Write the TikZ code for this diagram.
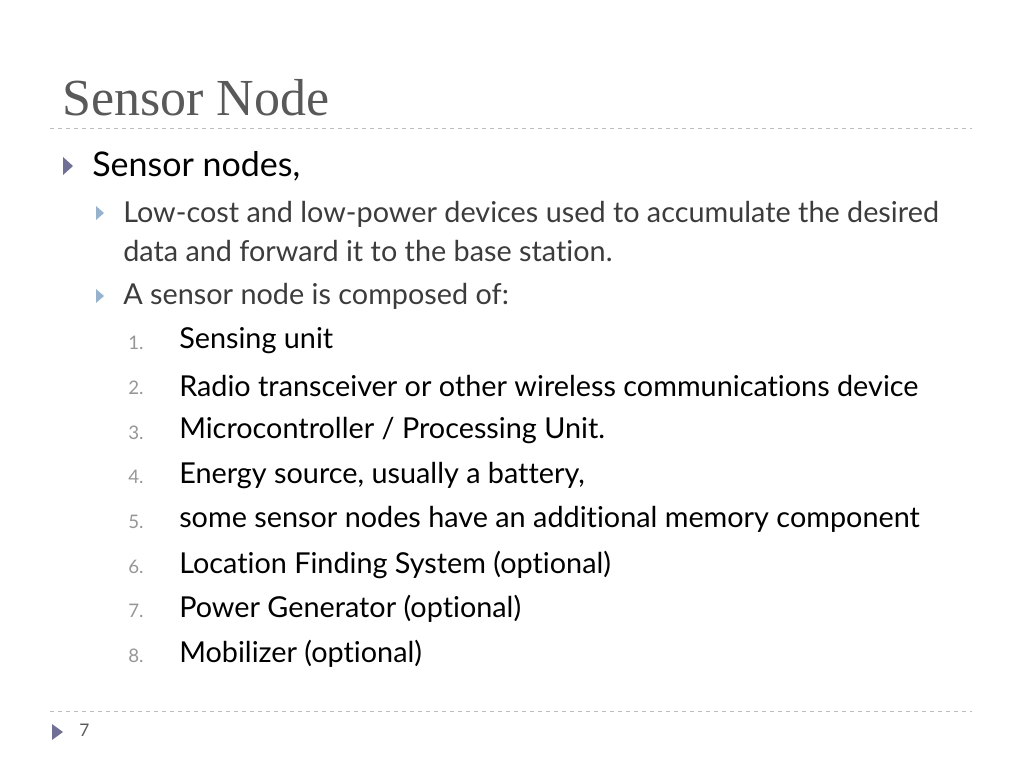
\documentclass[tikz,border=0pt]{standalone}
\usepackage{fontspec}
\setmainfont{Liberation Serif}
\newfontfamily\bodyfont[Ligatures={NoCommon}]{Lato}
\usetikzlibrary{positioning}
\definecolor{titlegray}{RGB}{89,89,89}
\definecolor{bulletblue}{RGB}{112,112,150}
\definecolor{subblue}{RGB}{150,178,204}
\definecolor{subgray}{RGB}{60,60,60}
\definecolor{numgray}{RGB}{150,150,150}
\definecolor{rulegray}{RGB}{190,190,190}
\tikzset{
  bodytext/.style={anchor=west,inner sep=0pt,font=\bodyfont\fontsize{25.5pt}{30pt}\selectfont},
  subtext/.style={anchor=west,inner sep=0pt,text=subgray,font=\bodyfont\fontsize{21.6pt}{25pt}\selectfont},
  itemtext/.style={anchor=west,inner sep=0pt,font=\bodyfont\fontsize{21.6pt}{25pt}\selectfont},
  numtext/.style={anchor=west,inner sep=0pt,text=numgray,font=\bodyfont\fontsize{14pt}{16pt}\selectfont},
  tribullet/.style={fill=bulletblue,draw=none},
  subbullet/.style={fill=subblue,draw=none},
  rulestyle/.style={draw=rulegray,dashed,line width=0.6pt}
}
\begin{document}
\begin{tikzpicture}[x=0.75pt,y=0.75pt,yscale=-1,xscale=1]
\useasboundingbox (0,0) rectangle (1024,768);

% title
\node[anchor=west,inner sep=0pt,text=titlegray,font=\fontsize{39pt}{44pt}\selectfont] (title) at (62,98) {Sensor Node};
\draw[rulestyle] (50,128) -- (972,128);

% bullets
\fill[tribullet] (63,157) -- (73,166) -- (63,175) -- cycle;
\node[bodytext] (lvlone) at (92,166) {Sensor nodes,};
\fill[subbullet] (96,206) -- (104,213) -- (96,220) -- cycle;
\node[subtext] (lowcost) at (123,214) {Low-cost and low-power devices used to accumulate the desired};
\node[subtext] (lowcostb) at (123,251) {data and forward it to the base station.};
\fill[subbullet] (96,289) -- (104,296) -- (96,303) -- cycle;
\node[subtext] (composed) at (123,296) {A sensor node is composed of:};

% numbered list
\foreach \n/\txt [count=\i from 0] in {1/Sensing unit,
  2/Radio transceiver or other wireless communications device,
  3/{Microcontroller / Processing Unit.},
  4/{Energy source, usually a battery,},
  5/some sensor nodes have an additional memory component,
  6/Location Finding System (optional),
  7/Power Generator (optional),
  8/Mobilizer (optional)}{
  \node[numtext] (num\n) at (128,343+44.7*\i) {\n.};
  \node[itemtext] (item\n) at (179,341+44.7*\i) {\txt};
}

% footer
\draw[rulestyle] (50,711) -- (972,711);
\fill[tribullet] (52,724) -- (63,732) -- (52,740) -- cycle;
\node[anchor=west,inner sep=0pt,text=titlegray,font=\bodyfont\fontsize{13pt}{15pt}\selectfont] (pagenum) at (79,730) {7};
\end{tikzpicture}
\end{document}
